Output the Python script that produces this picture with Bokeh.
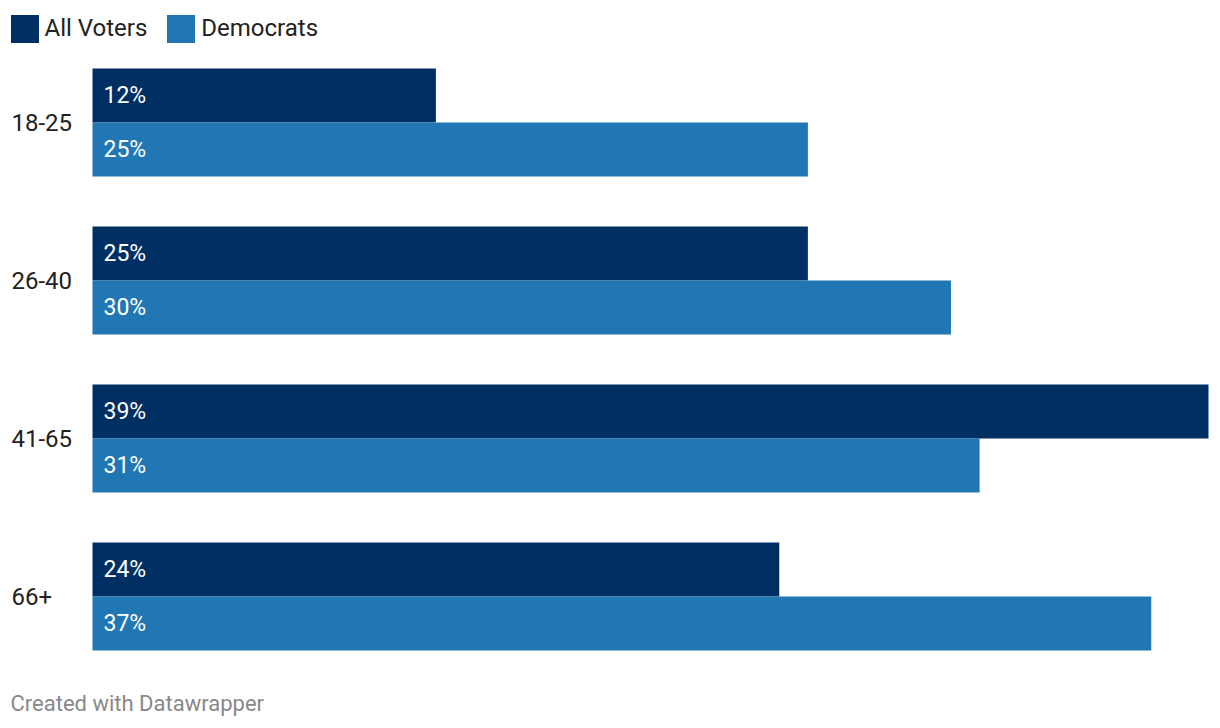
from bokeh.plotting import figure
from bokeh.models import ColumnDataSource, Range1d, Label
from bokeh.core.properties import value
from bokeh.embed import file_html
from bokeh.resources import INLINE

categories = ["18-25", "26-40", "41-65", "66+"]
all_voters = [12, 25, 39, 24]
democrats = [25, 30, 31, 37]
series_names = ["All Voters", "Democrats"]
colors = ["#003063", "#2077b4"]

W, H = 1212, 720
left_px = 92          # bar baseline offset from the left edge
top_px = 68           # top of first group
bar_h = 54
group_step = 158
max_v = max(all_voters + democrats)
scale = (1208 - left_px) / max_v

p = figure(width=W, height=H, output_backend="svg", toolbar_location=None,
           x_axis_type=None, y_axis_type=None, min_border=0,
           x_range=Range1d(-left_px / scale, (W - left_px) / scale),
           y_range=Range1d(H, 0))
p.outline_line_color = None
p.grid.visible = False
p.background_fill_color = "white"
p.border_fill_color = "white"

font = "Roboto"
for s_i, (name, vals, col) in enumerate(zip(series_names, [all_voters, democrats], colors)):
    ys = [top_px + i * group_step + bar_h / 2 + s_i * bar_h for i in range(len(categories))]
    src = ColumnDataSource(dict(y=ys, right=vals, left=[0] * len(vals),
                                lab=[f"{v}%" for v in vals]))
    p.hbar(y="y", left="left", right="right", height=bar_h, source=src,
           fill_color=col, line_color=None, legend_label=name)
    p.text(x="left", y="y", text="lab", source=src, x_offset=11,
           text_color="white", text_font=value(font), text_font_size="23px",
           text_baseline="middle", text_align="left")

for i, c in enumerate(categories):
    p.add_layout(Label(x=11, x_units="screen", y=top_px + i * group_step + bar_h,
                       text=c, text_font=font, text_font_size="24px",
                       text_color="#222222", text_baseline="middle", text_align="left"))

p.add_layout(Label(x=10, x_units="screen", y=703, text="Created with Datawrapper",
                   text_font=font, text_font_size="22px", text_color="#888888",
                   text_baseline="middle", text_align="left"))

lg = p.legend[0]
lg.location = (6.5, H - 10.5 - 35)
lg.orientation = "horizontal"
lg.padding = 0
lg.margin = 0
lg.spacing = 16
lg.glyph_width = 35
lg.glyph_height = 35
lg.label_standoff = 3
lg.label_height = 35
lg.label_text_font = font
lg.label_text_font_size = "24px"
lg.label_text_color = "#222222"
lg.border_line_color = None
lg.background_fill_alpha = 0

open("out.html", "w").write(file_html(p, INLINE))
